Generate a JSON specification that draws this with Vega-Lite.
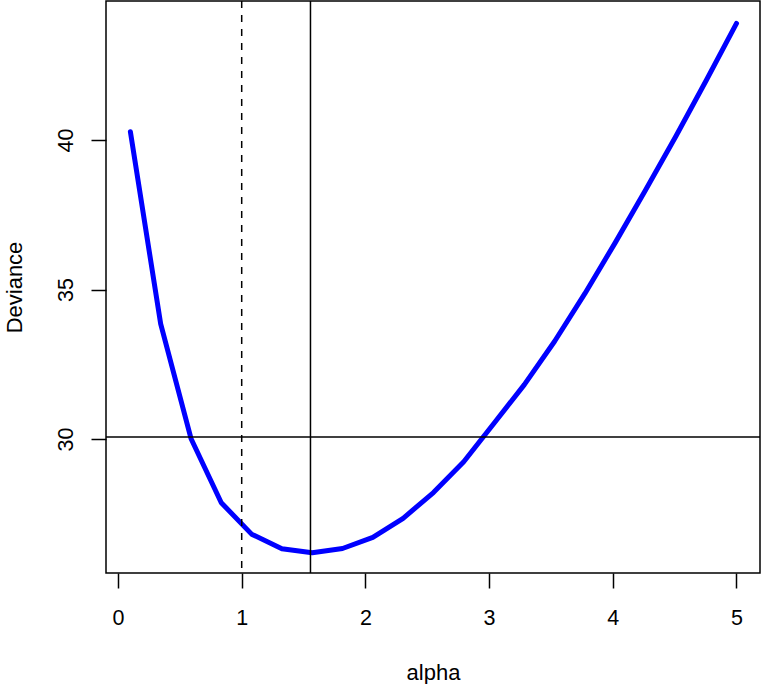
{
  "$schema": "https://vega.github.io/schema/vega-lite/v6.json",
  "width": 654,
  "height": 572,
  "autosize": {"type": "none"},
  "padding": {"left": 106, "top": 1, "right": 2, "bottom": 111},
  "background": "white",
  "config": {
    "view": {"stroke": "black", "strokeWidth": 1.5},
    "font": "Liberation Sans"
  },
  "datasets": {
    "curve": [
      {"alpha": 0.1, "deviance": 40.28},
      {"alpha": 0.345, "deviance": 33.85},
      {"alpha": 0.59, "deviance": 30.02},
      {"alpha": 0.835, "deviance": 27.87},
      {"alpha": 1.08, "deviance": 26.82},
      {"alpha": 1.325, "deviance": 26.33},
      {"alpha": 1.57, "deviance": 26.2},
      {"alpha": 1.815, "deviance": 26.34},
      {"alpha": 2.06, "deviance": 26.71},
      {"alpha": 2.305, "deviance": 27.35},
      {"alpha": 2.55, "deviance": 28.21},
      {"alpha": 2.795, "deviance": 29.24},
      {"alpha": 3.04, "deviance": 30.53},
      {"alpha": 3.285, "deviance": 31.82},
      {"alpha": 3.53, "deviance": 33.27},
      {"alpha": 3.775, "deviance": 34.87},
      {"alpha": 4.02, "deviance": 36.57},
      {"alpha": 4.265, "deviance": 38.33},
      {"alpha": 4.51, "deviance": 40.13},
      {"alpha": 4.755, "deviance": 41.99},
      {"alpha": 5.0, "deviance": 43.9}
    ],
    "hline": [{"deviance": 30.07}],
    "vsolid": [{"alpha": 1.556}],
    "vdash": [{"alpha": 1.0}]
  },
  "layer": [
    {
      "data": {"name": "curve"},
      "mark": {"type": "line", "color": "#0000ff", "strokeWidth": 5, "strokeCap": "round", "strokeJoin": "round", "clip": true},
      "encoding": {
        "x": {
          "field": "alpha", "type": "quantitative",
          "scale": {"domain": [-0.097, 5.19], "nice": false, "zero": false},
          "axis": {
            "values": [0, 1, 2, 3, 4, 5], "format": "d", "domain": false, "grid": false,
            "tickColor": "black", "tickSize": 15, "tickWidth": 1.5,
            "labelFontSize": 21.5, "labelColor": "black", "labelPadding": 19, "labelBaseline": "top", "labelFlush": false,
            "title": "alpha", "titleFontSize": 22, "titleFontWeight": "normal", "titleColor": "black",
            "titleX": 327, "titleY": 106.5, "titleBaseline": "alphabetic", "titleAlign": "center"
          }
        },
        "y": {
          "field": "deviance", "type": "quantitative",
          "scale": {"domain": [25.52, 44.65], "nice": false, "zero": false},
          "axis": {
            "values": [30, 35, 40], "format": "d", "domain": false, "grid": false,
            "tickColor": "black", "tickSize": 15, "tickWidth": 1.5,
            "labelFontSize": 21.5, "labelColor": "black", "labelPadding": 19, "labelAngle": 270, "labelAlign": "center", "labelBaseline": "alphabetic", "labelFlush": false,
            "title": "Deviance", "titleFontSize": 22, "titleFontWeight": "normal", "titleColor": "black",
            "titleAngle": 270, "titleX": -85, "titleY": 286, "titleBaseline": "alphabetic", "titleAlign": "center"
          }
        }
      }
    },
    {
      "data": {"name": "hline"},
      "mark": {"type": "rule", "color": "black", "strokeWidth": 1.5},
      "encoding": {
        "y": {"field": "deviance", "type": "quantitative"}
      }
    },
    {
      "data": {"name": "vsolid"},
      "mark": {"type": "rule", "color": "black", "strokeWidth": 1.5},
      "encoding": {
        "x": {"field": "alpha", "type": "quantitative"}
      }
    },
    {
      "data": {"name": "vdash"},
      "mark": {"type": "rule", "color": "black", "strokeWidth": 1.5, "strokeDash": [7, 7]},
      "encoding": {
        "x": {"field": "alpha", "type": "quantitative"}
      }
    }
  ]
}
